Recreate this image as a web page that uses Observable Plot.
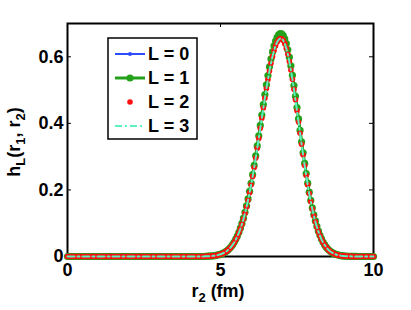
<!DOCTYPE html>
<html><head><meta charset="utf-8">
<script src="https://cdn.jsdelivr.net/npm/d3@7"></script>
<script src="https://cdn.jsdelivr.net/npm/@observablehq/plot@0.6"></script>
<style>body{margin:0;background:#fff}</style>
</head><body><div id="chart"></div>
<script>
// r2 grid (fm), step 0.05 from 0 to 10
const r2 = d3.range(0, 201).map(i => +(i * 0.05).toFixed(2));

// h_L(r1, r2) for L = 0 and L = 1 (curves coincide)
const hL01 = [
  0,0,0,0,0,0,0,0,0,0,
  0,0,0,0,0,0,0,0,0,0,
  0,0,0,0,0,0,0,0,0,0,
  0,0,0,0,0,0,0,0,0,0,
  0,0,0,0,0,0,0,0,0,0,
  0,0,0,0,0,0,0,0,0,0,
  0,0,0,0,0,0,0,0,0,0,
  0,0,0,0,0,0,0,0,0,0,
  0,0,0,0,0,0,0,0,0,0,
  0.0005,0.0007,0.0009,0.0011,0.0015,0.0020,0.0025,0.0033,0.0042,0.0054,
  0.0068,0.0085,0.0107,0.0133,0.0164,0.0202,0.0247,0.0300,0.0363,0.0436,
  0.0519,0.0616,0.0727,0.0852,0.0993,0.1152,0.1326,0.1519,0.1729,0.1957,
  0.2201,0.2461,0.2736,0.3024,0.3322,0.3628,0.3939,0.4251,0.4561,0.4865,
  0.5159,0.5438,0.5698,0.5936,0.6146,0.6327,0.6475,0.6587,0.6661,0.6697,
  0.6691,0.6639,0.6539,0.6395,0.6210,0.5987,0.5729,0.5444,0.5137,0.4812,
  0.4475,0.4133,0.3788,0.3448,0.3116,0.2795,0.2490,0.2202,0.1934,0.1686,
  0.1459,0.1254,0.1070,0.0906,0.0762,0.0637,0.0527,0.0434,0.0355,0.0288,
  0.0232,0.0186,0.0147,0.0116,0.0091,0.0071,0.0055,0.0042,0.0032,0.0024,
  0.0018,0.0013,0.0010,0.0007,0.0005,0.0004,0.0003,0.0002,0.0001,0.0001,
  0,
  0,0,0,0,0,0,0,0,0,0
];

// h_L(r1, r2) for L = 2 and L = 3 (slightly lower peak)
const hL23 = [
  0,0,0,0,0,0,0,0,0,0,
  0,0,0,0,0,0,0,0,0,0,
  0,0,0,0,0,0,0,0,0,0,
  0,0,0,0,0,0,0,0,0,0,
  0,0,0,0,0,0,0,0,0,0,
  0,0,0,0,0,0,0,0,0,0,
  0,0,0,0,0,0,0,0,0,0,
  0,0,0,0,0,0,0,0,0,0,
  0,0,0,0,0,0,0,0,0,0,
  0.0005,0.0007,0.0009,0.0011,0.0015,0.0019,0.0024,0.0032,0.0041,0.0053,
  0.0066,0.0083,0.0105,0.0130,0.0160,0.0198,0.0242,0.0293,0.0355,0.0426,
  0.0508,0.0602,0.0711,0.0833,0.0971,0.1127,0.1297,0.1486,0.1691,0.1914,
  0.2153,0.2407,0.2676,0.2957,0.3249,0.3548,0.3852,0.4157,0.4461,0.4758,
  0.5046,0.5318,0.5573,0.5805,0.6011,0.6188,0.6333,0.6442,0.6514,0.6550,
  0.6544,0.6493,0.6395,0.6254,0.6073,0.5855,0.5603,0.5324,0.5024,0.4706,
  0.4377,0.4042,0.3705,0.3372,0.3047,0.2734,0.2435,0.2154,0.1891,0.1649,
  0.1427,0.1226,0.1046,0.0886,0.0745,0.0623,0.0515,0.0424,0.0347,0.0282,
  0.0227,0.0182,0.0144,0.0113,0.0089,0.0069,0.0054,0.0041,0.0031,0.0023,
  0.0018,0.0013,0.0010,0.0007,0.0005,0.0004,0.0003,0.0002,0.0001,0.0001,
  0,
  0,0,0,0,0,0,0,0,0,0
];

const seriesNames = ["L = 0", "L = 1", "L = 2", "L = 3"];
const seriesColors = ["#2b4cff", "#25a01a", "#ff1010", "#5cf2c0"];
const xTicks = [0, 5, 10];
const yTicks = [0, 0.2, 0.4, 0.6];

const d0 = r2.map((x, i) => ({x, y: hL01[i]}));
const d1 = r2.map((x, i) => ({x, y: hL01[i]}));
const d2 = r2.map((x, i) => ({x, y: hL23[i]}));
const d3s = r2.map((x, i) => ({x, y: hL23[i]}));

const FRAME_H = 310 - 23 - 54;
const FRAME_W = 411 - 67 - 38;
const FONT = "'Liberation Sans', Arial, Helvetica, sans-serif";

const chart = Plot.plot({
  width: 411, height: 310,
  marginLeft: 67, marginRight: 38, marginTop: 23, marginBottom: 54,
  x: {domain: [0, 10]},
  y: {domain: [0, 0.7]},
  style: {fontFamily: FONT, fontSize: "18px", background: "white", color: "black"},
  marks: [
    Plot.axisX(xTicks, {tickSize: 0, tickPadding: 7, label: null, fontWeight: "bold", fontSize: 18}),
    Plot.axisY(yTicks, {tickSize: 0, tickPadding: 4, label: null, fontWeight: "bold", fontSize: 18, tickFormat: d => d === 0 ? "0" : d.toFixed(1)}),
    Plot.tickX(xTicks, {x: d => d, insetTop: FRAME_H - 4, stroke: "black", strokeWidth: 1}),
    Plot.tickX(xTicks, {x: d => d, insetBottom: FRAME_H - 4, stroke: "black", strokeWidth: 1}),
    Plot.tickY(yTicks, {y: d => d, insetRight: FRAME_W - 4, stroke: "black", strokeWidth: 1}),
    Plot.tickY(yTicks, {y: d => d, insetLeft: FRAME_W - 4, stroke: "black", strokeWidth: 1}),
    Plot.frame({stroke: "black", strokeWidth: 2}),
    // L = 0
    Plot.line(d0, {x: "x", y: "y", stroke: seriesColors[0], strokeWidth: 2}),
    Plot.dot(d0, {x: "x", y: "y", r: 1.6, fill: seriesColors[0], stroke: "none"}),
    // L = 1
    Plot.line(d1, {x: "x", y: "y", stroke: seriesColors[1], strokeWidth: 3}),
    Plot.dot(d1, {x: "x", y: "y", r: 3.6, fill: seriesColors[1], stroke: "none"}),
    // L = 2
    Plot.dot(d2, {x: "x", y: "y", r: 2.8, fill: seriesColors[2], stroke: "none"}),
    // L = 3
    Plot.line(d3s, {x: "x", y: "y", stroke: seriesColors[3], strokeWidth: 2, strokeDasharray: "7,3,2,3"})
  ]
});
document.getElementById("chart").appendChild(chart);

const svg = d3.select(chart);

// legend
const lg = svg.append("g").attr("font-family", FONT).attr("font-weight", "bold").attr("font-size", 18).attr("text-anchor", "start");
lg.append("rect").attr("x", 108).attr("y", 38).attr("width", 89).attr("height", 101)
  .attr("fill", "white").attr("stroke", "black").attr("stroke-width", 1.5);
const ly = [54, 78, 102, 126];
seriesNames.forEach((name, i) => {
  const y = ly[i];
  if (i === 0 || i === 1) {
    lg.append("line").attr("x1", 115).attr("x2", 145).attr("y1", y).attr("y2", y)
      .attr("stroke", seriesColors[i]).attr("stroke-width", i === 0 ? 2 : 3);
    lg.append("circle").attr("cx", 130).attr("cy", y).attr("r", i === 0 ? 2 : 3.6).attr("fill", seriesColors[i]);
  } else if (i === 2) {
    lg.append("circle").attr("cx", 130).attr("cy", y).attr("r", 2.8).attr("fill", seriesColors[i]);
  } else {
    lg.append("line").attr("x1", 115).attr("x2", 145).attr("y1", y).attr("y2", y)
      .attr("stroke", seriesColors[i]).attr("stroke-width", 2).attr("stroke-dasharray", "7,3,2,3");
  }
  lg.append("text").attr("x", 148).attr("y", y).attr("dy", "0.36em").attr("fill", "black").text(name);
});

// x label: r2 (fm)
const xl = svg.append("text").attr("x", 218).attr("y", 297).attr("text-anchor", "middle")
  .attr("font-family", FONT).attr("font-weight", "bold").attr("font-size", 18).attr("fill", "black");
xl.append("tspan").text("r");
xl.append("tspan").attr("dy", 5).attr("font-size", 13).text("2");
xl.append("tspan").attr("dy", -5).text(" (fm)");

// y label: hL(r1, r2)
const yl = svg.append("text").attr("transform", "translate(20,142) rotate(-90)").attr("text-anchor", "middle")
  .attr("font-family", FONT).attr("font-weight", "bold").attr("font-size", 18).attr("fill", "black");
yl.append("tspan").text("h");
yl.append("tspan").attr("dy", 5).attr("font-size", 13).text("L");
yl.append("tspan").attr("dy", -5).text("(r");
yl.append("tspan").attr("dy", 5).attr("font-size", 13).text("1");
yl.append("tspan").attr("dy", -5).text(", r");
yl.append("tspan").attr("dy", 5).attr("font-size", 13).text("2");
yl.append("tspan").attr("dy", -5).text(")");
</script>
</body></html>
